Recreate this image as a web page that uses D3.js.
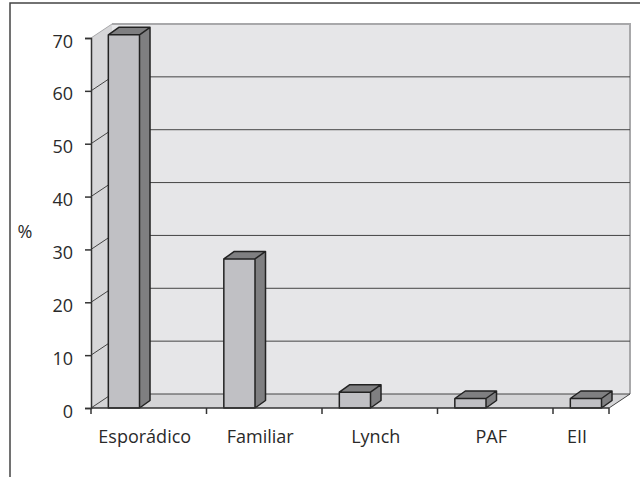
<!DOCTYPE html>
<html>
<head>
<meta charset="utf-8">
<script src="https://cdn.jsdelivr.net/npm/d3@7"></script>
<style>
  body { margin: 0; background: #fff; }
  text { font-family: "Open Sans", sans-serif; fill: #2a2a2a; }
</style>
</head>
<body>
<script>
// data
var categories = ['Esporádico', 'Familiar', 'Lynch', 'PAF', 'EII'];
var values = [70.6, 28.2, 3.0, 1.8, 1.8];
var yTicks = [0, 10, 20, 30, 40, 50, 60, 70];

var width = 640, height = 477;
var plotLeft = 91, plotRight = 609, plotTop = 38, plotBottom = 408;
var depth = [21, -14];        // wall depth offset
var barDepth = [10.5, -7.5];  // bar depth offset

var svg = d3.select('body').append('svg')
    .attr('width', width)
    .attr('height', height);

var x = d3.scaleBand()
    .domain(categories)
    .range([plotLeft, plotLeft + 5 * 115.5]);

var y = d3.scaleLinear()
    .domain([0, 70])
    .range([plotBottom, plotTop]);

// outer frame
svg.append('path')
    .attr('d', 'M10,' + height + 'V3H' + width)
    .attr('fill', 'none')
    .attr('stroke', '#444')
    .attr('stroke-width', 1.5);

// back wall
svg.append('rect')
    .attr('x', plotLeft + depth[0])
    .attr('y', y(70) + depth[1])
    .attr('width', plotRight - plotLeft)
    .attr('height', y(0) - y(70))
    .attr('fill', '#e6e6e8');

// left wall
svg.append('path')
    .attr('d', 'M' + plotLeft + ',' + y(70) + 'l' + depth[0] + ',' + depth[1] +
      'V' + (y(0) + depth[1]) + 'L' + plotLeft + ',' + y(0) + 'Z')
    .attr('fill', '#d6d6d8');

// floor
svg.append('path')
    .attr('d', 'M' + plotLeft + ',' + y(0) + 'l' + depth[0] + ',' + depth[1] +
      'H' + (plotRight + depth[0]) + 'L' + plotRight + ',' + y(0) + 'Z')
    .attr('fill', '#d4d4d6');

// back wall top and right edges
svg.append('path')
    .attr('d', 'M' + (plotLeft + depth[0]) + ',' + (y(70) + depth[1]) + 'H' + (plotRight + depth[0]) +
      'V' + (y(0) + depth[1]))
    .attr('fill', 'none')
    .attr('stroke', '#a8a8aa')
    .attr('stroke-width', 2);

// gridlines on back wall and left wall
var grid = svg.append('g');
grid.selectAll('line.back')
  .data(yTicks.filter(function(d){return d < 70}))
  .enter()
  .append('line')
    .attr('class', 'back')
    .attr('x1', plotLeft + depth[0])
    .attr('x2', plotRight + depth[0])
    .attr('y1', function(d){return y(d) + depth[1]})
    .attr('y2', function(d){return y(d) + depth[1]})
    .attr('stroke', '#444')
    .attr('stroke-width', 1);

grid.selectAll('line.side')
  .data(yTicks)
  .enter()
  .append('line')
    .attr('class', 'side')
    .attr('x1', plotLeft)
    .attr('x2', plotLeft + depth[0])
    .attr('y1', function(d){return y(d)})
    .attr('y2', function(d){return y(d) + depth[1]})
    .attr('stroke', function(d){return d == 70 ? '#a8a8aa' : '#444'})
    .attr('stroke-width', 1);

// floor right edge
svg.append('line')
    .attr('x1', plotRight).attr('y1', y(0))
    .attr('x2', plotRight + depth[0]).attr('y2', y(0) + depth[1])
    .attr('stroke', '#444');

// bars
var bw = x.bandwidth() * 0.27;
var bars = svg.selectAll('g.bar')
  .data(categories)
  .enter()
  .append('g')
    .attr('class', 'bar')
    .attr('transform', function(d){return 'translate(' + (x(d) + x.bandwidth() * 0.15) + ',0)'});

bars.append('path')   // side
    .attr('d', function(d, i){
      var t = y(values[i]);
      return 'M' + bw + ',' + t + 'l' + barDepth[0] + ',' + barDepth[1] +
        'V' + (plotBottom + barDepth[1]) + 'L' + bw + ',' + plotBottom + 'Z';
    })
    .attr('fill', '#7f7f81');

bars.append('path')   // top
    .attr('d', function(d, i){
      var t = y(values[i]);
      return 'M0,' + t + 'l' + barDepth[0] + ',' + barDepth[1] +
        'h' + bw + 'l' + (-barDepth[0]) + ',' + (-barDepth[1]) + 'Z';
    })
    .attr('fill', '#7f7f81');

bars.append('rect')   // front
    .attr('x', 0)
    .attr('y', function(d, i){return y(values[i])})
    .attr('width', bw)
    .attr('height', function(d, i){return plotBottom - y(values[i])})
    .attr('fill', '#c0c0c4');

bars.append('path')   // outline
    .attr('d', function(d, i){
      var t = y(values[i]);
      return 'M0,' + plotBottom + 'V' + t + 'l' + barDepth[0] + ',' + barDepth[1] +
        'h' + bw + 'V' + (plotBottom + barDepth[1]) + 'L' + bw + ',' + plotBottom + 'Z' +
        'M0,' + t + 'h' + bw + 'V' + plotBottom + 'M' + bw + ',' + t + 'l' + barDepth[0] + ',' + barDepth[1];
    })
    .attr('fill', 'none')
    .attr('stroke', '#222')
    .attr('stroke-width', 1.5)
    .attr('stroke-linejoin', 'round');

// y axis
var y_axis = d3.axisLeft(y).tickValues(yTicks).tickSize(6).tickPadding(12);
var gy = svg.append('g')
    .attr('class', 'y axis')
    .attr('transform', 'translate(' + plotLeft + ',0)')
    .call(y_axis);
gy.select('.domain').attr('stroke', '#333').attr('stroke-width', 1.5);
gy.selectAll('.tick line').attr('stroke', '#333').attr('stroke-width', 1.5);
gy.selectAll('.tick text')
    .style('font-size', '18px')
    .style('font-family', '"Open Sans", sans-serif')
    .attr('fill', '#2a2a2a')
    .attr('dy', '0.5em');

// x axis
var xTicks = categories.map(function(d){return x(d)}).concat([plotRight]);
svg.append('line')
    .attr('x1', plotLeft).attr('x2', plotRight)
    .attr('y1', plotBottom).attr('y2', plotBottom)
    .attr('stroke', '#333').attr('stroke-width', 1.5);
svg.selectAll('line.xtick')
  .data(xTicks)
  .enter()
  .append('line')
    .attr('class', 'xtick')
    .attr('x1', function(d){return d}).attr('x2', function(d){return d})
    .attr('y1', plotBottom).attr('y2', plotBottom + 6)
    .attr('stroke', '#333').attr('stroke-width', 1.5);

svg.selectAll('text.xlabel')
  .data(categories)
  .enter()
  .append('text')
    .attr('class', 'xlabel')
    .attr('x', function(d, i){return (xTicks[i] + xTicks[i + 1]) / 2 - 4})
    .attr('y', plotBottom + 35)
    .attr('text-anchor', 'middle')
    .style('font-size', '18px')
    .text(function(d){return d});

svg.append('text')
    .text('%')
    .attr('x', 25)
    .attr('y', 238)
    .attr('text-anchor', 'middle')
    .style('font-size', '18px');
</script>
</body>
</html>
